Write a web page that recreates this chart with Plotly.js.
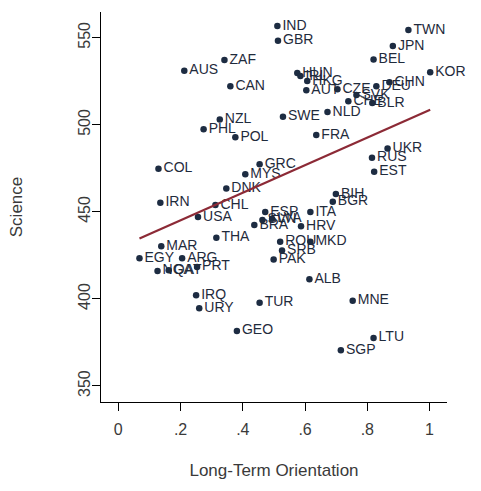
<!DOCTYPE html>
<html>
<head>
<meta charset="utf-8">
<script src="https://cdn.plot.ly/plotly-3.0.1.min.js"></script>
<style>
  html, body { margin: 0; padding: 0; background: #fff; }
  #chart { width: 481px; height: 491px; }
</style>
</head>
<body>
<div id="chart"></div>
<script>
// Country codes, long-term orientation index and science score
const countries = ["IND","GBR","TWN","JPN","BEL","KOR","AUS","ZAF","CAN","HUN",
  "IRL","HKG","AUT","CZE","SVK","CHE","BLR","DEU","CHN","NLD",
  "SWE","FRA","NZL","PHL","POL","UKR","RUS","EST","COL","GRC",
  "MYS","DNK","IRN","CHL","USA","THA","BIH","BGR","ITA","ESP",
  "SVN","LVA","BRA","HRV","ROU","MKD","SRB","PAK","ALB","MNE",
  "TUR","LTU","SGP","GEO","IRQ","URY","MAR","EGY","ARG","NGA",
  "QAT","PRT"];

const orientation = [0.511,0.513,0.932,0.882,0.820,1.002,0.212,0.341,0.360,0.575,
  0.585,0.607,0.604,0.704,0.765,0.739,0.816,0.829,0.871,0.672,
  0.529,0.636,0.326,0.274,0.376,0.865,0.815,0.822,0.129,0.454,
  0.408,0.347,0.135,0.312,0.256,0.315,0.699,0.689,0.617,0.472,
  0.463,0.494,0.437,0.587,0.520,0.617,0.526,0.499,0.614,0.753,
  0.454,0.820,0.715,0.381,0.250,0.260,0.138,0.068,0.205,0.126,
  0.162,0.253];

const science = [556.7,548.3,554.4,545.2,537.5,530.2,531.0,537.2,522.2,529.7,
  528.0,525.1,519.9,520.5,517.1,513.6,512.5,522.2,524.5,507.3,
  504.6,494.1,503.1,497.5,492.9,486.4,481.1,473.1,474.8,477.4,
  471.6,463.4,455.2,453.9,447.0,435.1,460.2,455.8,449.9,449.9,
  445.4,446.0,442.4,441.8,432.8,432.8,427.8,422.7,411.3,398.9,
  397.8,377.6,370.5,381.6,402.1,394.6,430.3,423.3,423.3,416.1,
  416.5,418.4];

const xTickVals = [0, 0.2, 0.4, 0.6, 0.8, 1];
const xTickText = ["0", ".2", ".4", ".6", ".8", "1"];
const yTickVals = [350, 400, 450, 500, 550];

// Ordinary least squares fit of science on orientation
function linearFit(xs, ys) {
  const n = xs.length;
  const mx = xs.reduce((a, b) => a + b, 0) / n;
  const my = ys.reduce((a, b) => a + b, 0) / n;
  let sxy = 0, sxx = 0;
  for (let i = 0; i < n; i++) {
    sxy += (xs[i] - mx) * (ys[i] - my);
    sxx += (xs[i] - mx) * (xs[i] - mx);
  }
  const slope = sxy / sxx;
  return { slope: slope, intercept: my - slope * mx };
}

const fit = linearFit(orientation, science);
const xMin = Math.min(...orientation);
const xMax = Math.max(...orientation);
const fitX = [xMin, xMax];
const fitY = fitX.map(v => fit.intercept + fit.slope * v);

const ink = "#1d2c42";
const labelFont = { family: "Liberation Sans, Arial, sans-serif", size: 14, color: "#1f2b3c" };
const axisFont = { family: "Liberation Sans, Arial, sans-serif", size: 16, color: "#3a3a3a" };
const titleFont = { family: "Liberation Sans, Arial, sans-serif", size: 17, color: "#3a3a3a" };

const traces = [
  {
    type: "scatter",
    mode: "markers+text",
    x: orientation,
    y: science,
    text: countries,
    textposition: "middle right",
    textfont: labelFont,
    marker: { color: ink, size: 6.5 },
    hoverinfo: "text+x+y",
    cliponaxis: false
  },
  {
    type: "scatter",
    mode: "lines",
    x: fitX,
    y: fitY,
    line: { color: "#8c2a36", width: 2.2 },
    hoverinfo: "skip"
  }
];

const layout = {
  width: 481,
  height: 491,
  margin: { l: 101, r: 34, t: 12, b: 89 },
  paper_bgcolor: "#ffffff",
  plot_bgcolor: "#ffffff",
  showlegend: false,
  font: axisFont,
  xaxis: {
    range: [-0.0556, 1.056],
    tickvals: xTickVals,
    ticktext: xTickText,
    ticks: "outside",
    ticklen: 8,
    tickwidth: 1,
    tickcolor: "#000",
    showline: true,
    linecolor: "#000",
    linewidth: 1,
    showgrid: false,
    zeroline: false,
    ticklabelstandoff: 5,
    tickfont: axisFont,
    title: { text: "Long-Term Orientation", font: titleFont, standoff: 26 }
  },
  yaxis: {
    range: [340.8, 564.8],
    tickvals: yTickVals,
    tickangle: -90,
    ticks: "outside",
    ticklen: 8,
    tickwidth: 1,
    tickcolor: "#000",
    showline: true,
    linecolor: "#000",
    linewidth: 1,
    showgrid: false,
    zeroline: false,
    ticklabelstandoff: -4,
    tickfont: axisFont,
    title: { text: "Science", font: titleFont, standoff: 48 }
  }
};

Plotly.newPlot("chart", traces, layout, { displayModeBar: false, staticPlot: true });
</script>
</body>
</html>
